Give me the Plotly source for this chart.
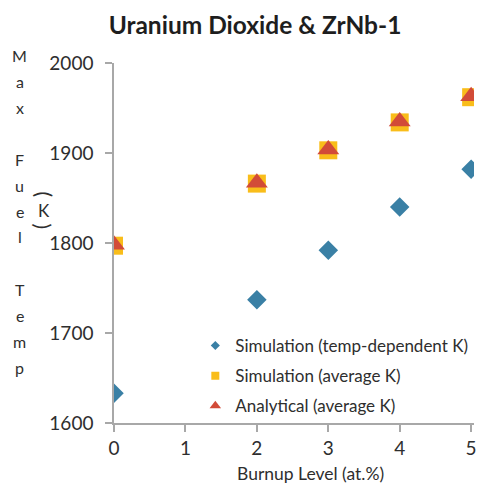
import plotly.graph_objects as go

# Burnup levels (at.%) and maximum fuel temperature (K)
burnup = [0, 2, 3, 4, 5]
sim_temp_dep_k = [1633, 1737, 1792, 1840, 1882]
sim_avg_k = [1797, 1866, 1903, 1934, 1962]
analytical_avg_k = [1798, 1867, 1904, 1935, 1963]

x_ticks = [0, 1, 2, 3, 4, 5]
y_ticks = [1600, 1700, 1800, 1900, 2000]

series_names = [
    "Simulation (temp-dependent K)",
    "Simulation (average K)",
    "Analytical (average K)",
]

BLUE = "#3a80a5"
GOLD = "#f9bd1a"
RED = "#d24b38"
AXIS = "#a8a8a8"
TEXT = "#2e2e2e"
FONT = "Lato, 'Open Sans', sans-serif"

W, H = 477, 486
ML, MR, MT, MB = 114, 0, 63, 63
PW, PH = W - ML - MR, H - MT - MB


def px_x(px):
    return (px - ML) / PW


def px_y(py):
    return (H - MB - py) / PH


fig = go.Figure()

fig.add_trace(go.Scatter(
    x=burnup, y=sim_temp_dep_k, mode="markers", showlegend=False,
    marker=dict(symbol="diamond", size=15, color=BLUE),
))
fig.add_trace(go.Scatter(
    x=burnup, y=sim_avg_k, mode="markers", showlegend=False,
    marker=dict(symbol="square", size=18, color=GOLD),
))
fig.add_trace(go.Scatter(
    x=burnup, y=analytical_avg_k, mode="markers", showlegend=False,
    marker=dict(symbol="triangle-up", size=19, color=RED),
))

# legend keys with small symbols
for name, sym, col, sz, grp in zip(series_names,
                                   ["diamond", "square", "triangle-up"],
                                   [BLUE, GOLD, RED], [7, 8, 10],
                                   ["a", "b", "c"]):
    fig.add_trace(go.Scatter(
        x=[None], y=[None], mode="markers", name=name, legendgroup=grp,
        marker=dict(symbol=sym, size=sz, color=col),
    ))

axis_common = dict(
    showline=True, linecolor=AXIS, linewidth=1.5,
    ticks="outside", ticklen=7, tickcolor=AXIS, tickwidth=1.5,
    showgrid=False, zeroline=False,
    tickfont=dict(family=FONT, size=19, color=TEXT),
    ticklabeloverflow="allow",
)

fig.update_xaxes(range=[0, 5.04], tickvals=x_ticks, **axis_common)
fig.update_yaxes(range=[1600, 2000], tickvals=y_ticks,
                 ticklabelstandoff=8, **axis_common)

annotations = []

# stacked y-axis title letters
letters = list("Max Fuel Temp")
for i, ch in enumerate(letters):
    if ch == " ":
        continue
    annotations.append(dict(
        text=ch, xref="paper", yref="paper",
        x=px_x(19), y=px_y(55 + 26 * i),
        xanchor="center", yanchor="middle", showarrow=False,
        font=dict(family=FONT, size=16, color=TEXT),
    ))

# unit "(K)" with turned parentheses
annotations += [
    dict(text="(", textangle=90, xref="paper", yref="paper",
         x=px_x(44), y=px_y(194), xanchor="center", yanchor="middle",
         showarrow=False, font=dict(family=FONT, size=21, color=TEXT)),
    dict(text="K", xref="paper", yref="paper",
         x=px_x(43), y=px_y(210), xanchor="center", yanchor="middle",
         showarrow=False, font=dict(family=FONT, size=17, color=TEXT)),
    dict(text=")", textangle=90, xref="paper", yref="paper",
         x=px_x(42), y=px_y(226), xanchor="center", yanchor="middle",
         showarrow=False, font=dict(family=FONT, size=21, color=TEXT)),
]

# x-axis title
annotations.append(dict(
    text="Burnup Level (at.%)", xref="paper", yref="paper",
    x=px_x(312), y=px_y(473), xanchor="center", yanchor="middle",
    showarrow=False, font=dict(family=FONT, size=17.5, color=TEXT),
))

fig.update_layout(
    width=W, height=H,
    margin=dict(l=ML, r=MR, t=MT, b=MB, pad=0),
    paper_bgcolor="white", plot_bgcolor="white",
    title=dict(
        text="<b>Uranium Dioxide & ZrNb-1</b>",
        xref="container", yref="container",
        x=255 / W, y=1 - 25 / H, xanchor="center", yanchor="middle",
        font=dict(family=FONT, size=24.5, color="#1e1e1e"),
    ),
    legend=dict(
        x=px_x(196), y=px_y(424), xanchor="left", yanchor="bottom",
        bgcolor="rgba(0,0,0,0)", borderwidth=0,
        font=dict(family=FONT, size=17, color=TEXT),
        traceorder="grouped", tracegroupgap=5,
        itemsizing="trace",
    ),
    annotations=annotations,
)

fig.write_html("out.html")
